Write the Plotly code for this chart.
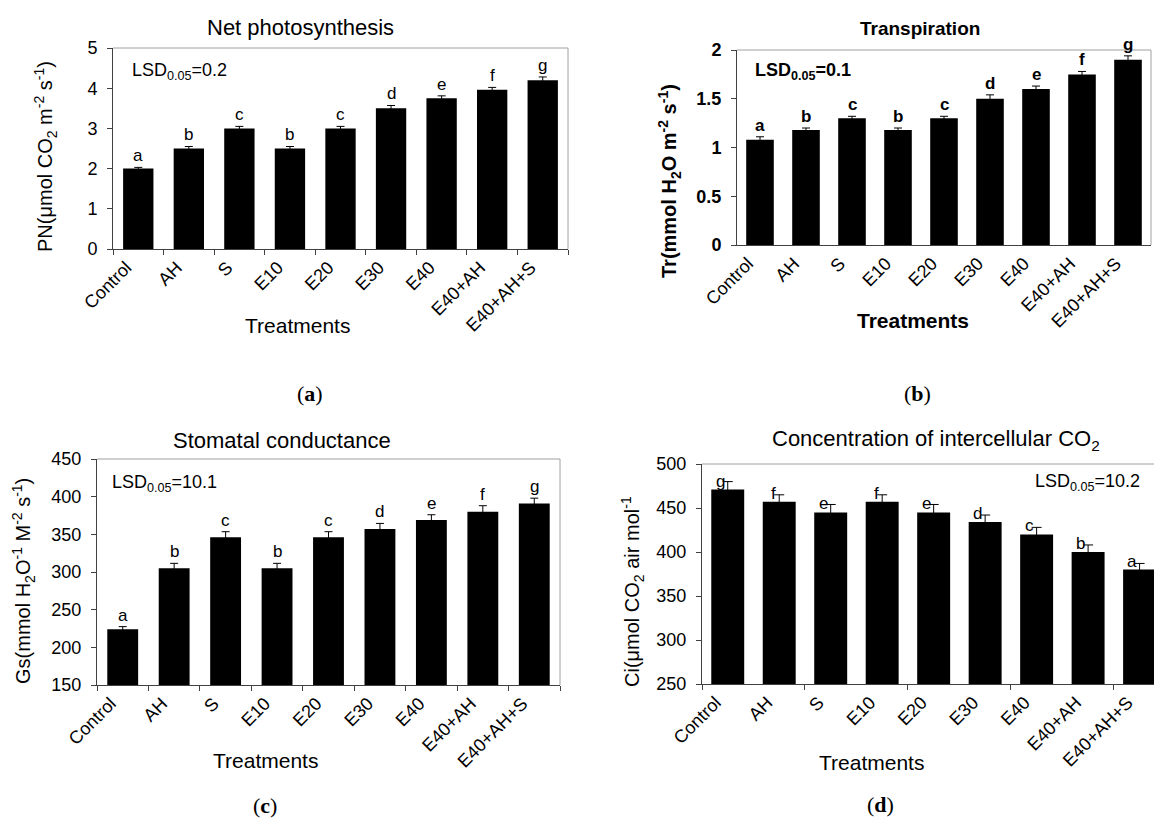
import plotly.graph_objects as go

W, H = 1154, 818

treatments = ["Control", "AH", "S", "E10", "E20", "E30", "E40", "E40+AH", "E40+AH+S"]

pn_values = [2.0, 2.5, 3.0, 2.5, 3.0, 3.5, 3.75, 3.96, 4.2]
pn_errors = [0.03, 0.05, 0.05, 0.05, 0.05, 0.07, 0.06, 0.06, 0.08]
pn_letters = ["a", "b", "c", "b", "c", "d", "e", "f", "g"]

tr_values = [1.08, 1.18, 1.30, 1.18, 1.30, 1.50, 1.60, 1.75, 1.90]
tr_errors = [0.03, 0.02, 0.02, 0.02, 0.02, 0.04, 0.03, 0.03, 0.04]
tr_letters = ["a", "b", "c", "b", "c", "d", "e", "f", "g"]

gs_values = [224, 305, 346, 305, 346, 357, 369, 380, 391]
gs_errors = [3.5, 6.5, 7.5, 6.5, 7.5, 7.5, 7, 8, 7]
gs_letters = ["a", "b", "c", "b", "c", "d", "e", "f", "g"]

ci_values = [471, 457, 445, 457, 445, 434, 420, 400, 380]
ci_errors = [9, 8, 9, 8, 9, 8, 8, 8, 7]
ci_letters = ["g", "f", "e", "f", "e", "d", "c", "b", "a"]

FONT = "Liberation Sans"
SERIF = "Liberation Serif"
AXIS_DARK = "#404040"
BORDER = "#a0a0a0"

TICK_SIZE = 18
CAT_SIZE = 18
LETTER_SIZE = 17


def fx(p):
    return p / W


def fy(p):
    return 1 - p / H


panels = [
    dict(values=pn_values, errors=pn_errors, letters=pn_letters,
         xdom=(113, 568), ydom=(48, 249), yrange=(0, 5), dtick=1,
         bold=False, xticks="outside", xrange=(-0.5, 8.5), bar_w=0.6, right_border=True),
    dict(values=tr_values, errors=tr_errors, letters=tr_letters,
         xdom=(737, 1151), ydom=(50, 245), yrange=(0, 2), dtick=0.5,
         bold=True, xticks="", xrange=(-0.5, 8.5), bar_w=0.6, right_border=True),
    dict(values=gs_values, errors=gs_errors, letters=gs_letters,
         xdom=(97, 560), ydom=(459, 685), yrange=(150, 450), dtick=50,
         bold=False, xticks="outside", xrange=(-0.5, 8.5), bar_w=0.6, right_border=True),
    dict(values=ci_values, errors=ci_errors, letters=ci_letters,
         xdom=(702, 1154), ydom=(464, 684), yrange=(250, 500), dtick=50,
         bold=False, xticks="", xrange=(-0.5, 8.28), bar_w=0.64, right_border=False),
]

fig = go.Figure()
annotations = []
shapes = []
layout_axes = {}

for i, p in enumerate(panels, start=1):
    xa = f"x{i}" if i > 1 else "x"
    ya = f"y{i}" if i > 1 else "y"
    fig.add_trace(go.Bar(
        x=treatments, y=p["values"], xaxis=xa, yaxis=ya,
        width=p["bar_w"], marker=dict(color="black", line=dict(width=0)),
        error_y=dict(type="data", array=p["errors"], visible=True,
                     color="black", thickness=1, width=4 if i < 4 else 5),
        showlegend=False, hoverinfo="x+y",
    ))
    tick_font = dict(family=FONT, size=TICK_SIZE, color="black")
    x_font = dict(family=FONT, size=CAT_SIZE, color="black")
    if p["bold"]:
        tick_font["weight"] = "bold"
    layout_axes[f"xaxis{i if i > 1 else ''}"] = dict(
        domain=[fx(p["xdom"][0]), fx(p["xdom"][1])], anchor=ya,
        type="category", range=list(p["xrange"]), automargin=False,
        showline=True, linecolor=AXIS_DARK, linewidth=1,
        ticks=p["xticks"], tickson="boundaries", ticklen=5, tickcolor=AXIS_DARK,
        tickangle=-45, tickfont=x_font, ticklabelshift=-12,
        showgrid=False, zeroline=False,
    )
    layout_axes[f"yaxis{i if i > 1 else ''}"] = dict(
        domain=[fy(p["ydom"][1]), fy(p["ydom"][0])], anchor=xa,
        range=list(p["yrange"]), dtick=p["dtick"], tick0=0, automargin=False,
        showline=True, linecolor=AXIS_DARK, linewidth=1,
        ticks="outside", ticklen=5, tickcolor=AXIS_DARK, ticklabelstandoff=6,
        tickfont=tick_font, showgrid=False, zeroline=False,
    )
    # light frame along the top and right of the plot area
    shapes.append(dict(type="line", xref=f"{xa} domain", yref=f"{ya} domain",
                       x0=0, x1=1, y0=1, y1=1, line=dict(color=BORDER, width=1)))
    if p["right_border"]:
        shapes.append(dict(type="line", xref=f"{xa} domain", yref=f"{ya} domain",
                           x0=1, x1=1, y0=0, y1=1, line=dict(color=BORDER, width=1)))
    # significance letters
    for cat, v, e, letter in zip(treatments, p["values"], p["errors"], p["letters"]):
        f = dict(family=FONT, size=LETTER_SIZE, color="black")
        if p["bold"]:
            f["weight"] = "bold"
        if i == 4:
            annotations.append(dict(x=cat, y=v, xref=xa, yref=ya, text=letter,
                                    showarrow=False, xanchor="right", yanchor="bottom",
                                    xshift=-1, yshift=-3, font=f))
        else:
            annotations.append(dict(x=cat, y=v + e, xref=xa, yref=ya, text=letter,
                                    showarrow=False, xanchor="center", yanchor="bottom",
                                    yshift=0, font=f))

# tick marks every second category boundary on panel (d)
layout_axes["xaxis5"] = dict(
    domain=[fx(702), fx(1154)], anchor="y4", overlaying="x4", type="linear",
    range=[-0.5, 8.28], tickvals=[-0.5, 1.5, 3.5, 5.5, 7.5], ticks="outside",
    ticklen=5, tickcolor=AXIS_DARK, showticklabels=False, showline=False,
    showgrid=False, zeroline=False, automargin=False,
)
fig.add_trace(go.Scatter(x=[None], y=[None], xaxis="x5", yaxis="y4",
                         showlegend=False, hoverinfo="skip"))


def txt(x, y, text, size, bold=False, family=FONT, angle=0, xanchor="center"):
    f = dict(family=family, size=size, color="black")
    if bold:
        f["weight"] = "bold"
    annotations.append(dict(x=fx(x), y=fy(y), xref="paper", yref="paper", text=text,
                            showarrow=False, xanchor=xanchor, yanchor="middle",
                            textangle=angle, font=f))


# panel titles
txt(300, 27, "Net photosynthesis", 22)
txt(920, 28, "Transpiration", 19, bold=True)
txt(282, 440, "Stomatal conductance", 22)
txt(936, 440, "Concentration of intercellular CO<sub>2</sub>", 22)

# y-axis titles
txt(45, 157, "PN(μmol CO<sub>2</sub> m<sup>-2</sup> s<sup>-1</sup>)", 20, angle=-90)
txt(670, 181, "Tr(mmol H<sub>2</sub>O m<sup>-2</sup> s<sup>-1</sup>)", 20, bold=True, angle=-90)
txt(23, 581, "Gs(mmol H<sub>2</sub>O<sup>-1</sup> M<sup>-2</sup> s<sup>-1</sup>)", 20, angle=-90)
txt(632, 592, "Ci(μmol CO<sub>2</sub> air mol<sup>-1</sup>", 20, angle=-90)

# x-axis titles
txt(297, 325, "Treatments", 21)
txt(913, 320, "Treatments", 21, bold=True)
txt(265, 760, "Treatments", 21)
txt(871, 762, "Treatments", 21)

# LSD notes
txt(130, 72, "LSD<sub>0.05</sub>=0.2", 18, xanchor="left")
txt(753, 72, "LSD<sub>0.05</sub>=0.1", 18, bold=True, xanchor="left")
txt(110, 483, "LSD<sub>0.05</sub>=10.1", 18, xanchor="left")
txt(1142, 482, "LSD<sub>0.05</sub>=10.2", 18, xanchor="right")

# panel labels
txt(310, 393, "(<b>a</b>)", 22, family=SERIF)
txt(917, 393, "(<b>b</b>)", 22, family=SERIF)
txt(265, 805, "(<b>c</b>)", 22, family=SERIF)
txt(880, 804, "(<b>d</b>)", 22, family=SERIF)

fig.update_layout(
    width=W, height=H, margin=dict(l=0, r=0, t=0, b=0, autoexpand=False),
    paper_bgcolor="white", plot_bgcolor="white",
    font=dict(family=FONT, color="black"),
    annotations=annotations, shapes=shapes, showlegend=False,
    **layout_axes,
)

fig.write_html("out.html")
